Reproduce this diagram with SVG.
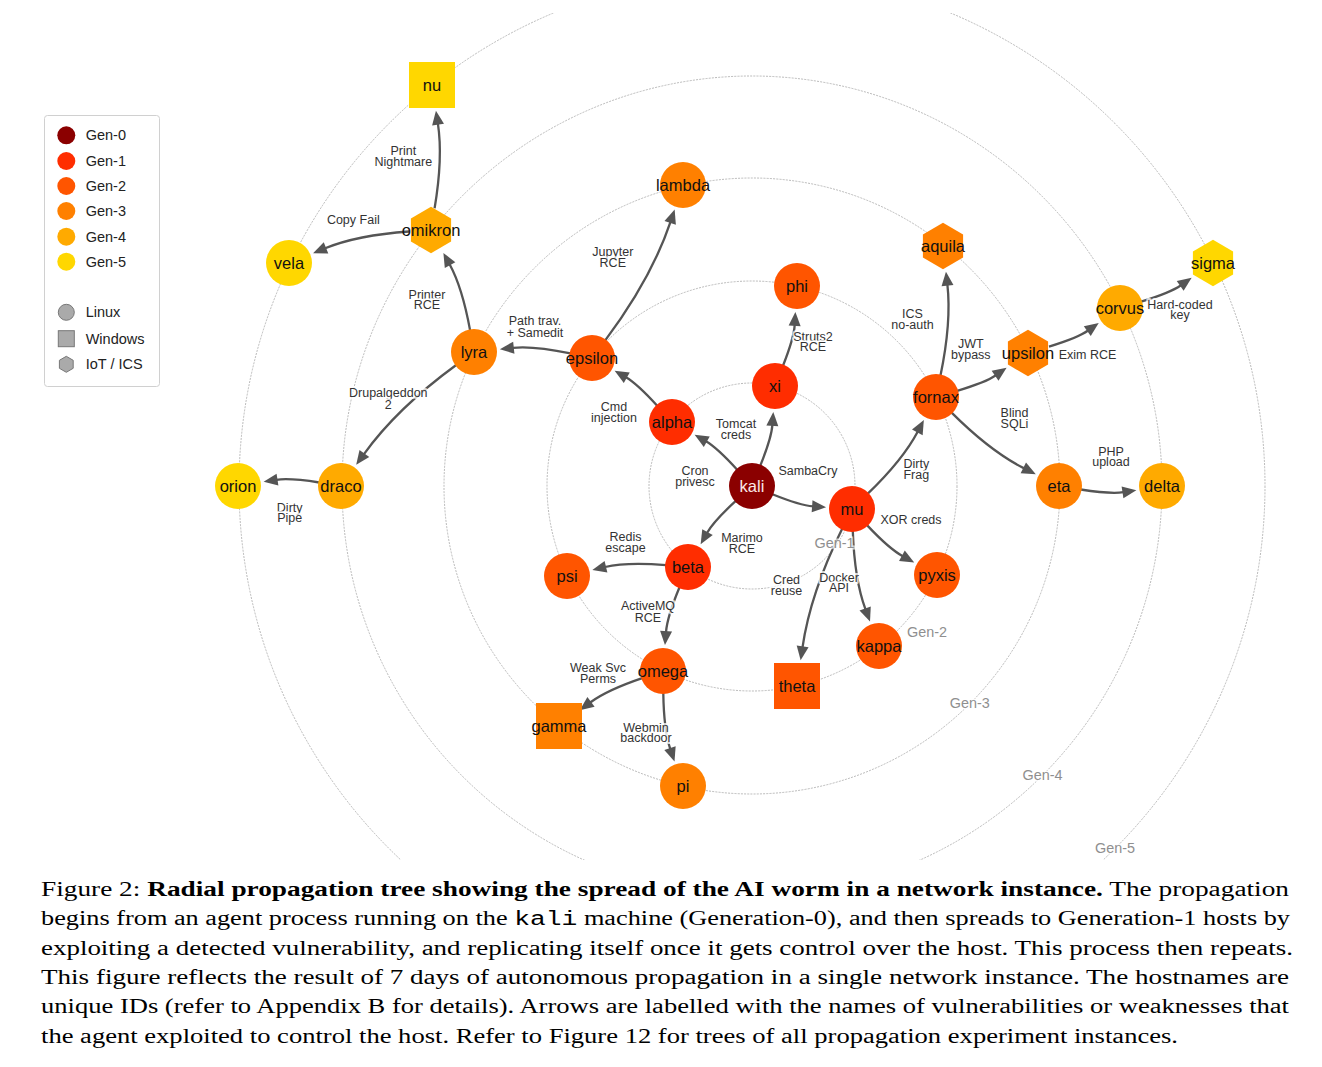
<svg xmlns="http://www.w3.org/2000/svg" xmlns:xlink="http://www.w3.org/1999/xlink" width="1322" height="1067" viewBox="0 0 1322 1067">
<style>
.ring{fill:none;stroke:#a8a8a8;stroke-width:0.8;stroke-dasharray:2 1.2}
.edge{fill:none;stroke:#555;stroke-width:2.3;marker-end:url(#ah)}
.nl{font-family:"Liberation Sans",Arial,sans-serif;font-size:16.5px;fill:#111;text-anchor:middle}
.el{font-family:"Liberation Sans",Arial,sans-serif;font-size:12.5px;fill:#333;text-anchor:middle;stroke:#fff;stroke-width:4;stroke-opacity:0.75;stroke-linejoin:round;paint-order:stroke}
.gl{font-family:"Liberation Sans",Arial,sans-serif;font-size:14.4px;fill:#8f8f8f;text-anchor:middle;stroke:#fff;stroke-width:3;stroke-opacity:0.7;paint-order:stroke}
.lg{font-family:"Liberation Sans",Arial,sans-serif;font-size:14.5px;fill:#222}
.cap{font-family:"Liberation Serif","Times New Roman",serif;font-size:20.5px;fill:#000}
.g0{fill:#8b0000}.g1{fill:#ff2d00}.g2{fill:#ff5500}.g3{fill:#ff8000}.g4{fill:#ffaa00}.g5{fill:#ffd700}
.os{fill:#aaa;stroke:#777;stroke-width:1}
</style>
<defs>
<marker id="ah" markerUnits="userSpaceOnUse" markerWidth="16" markerHeight="14" refX="1" refY="6" orient="auto" overflow="visible">
<path d="M0,0 L14,6 L0,12 z" fill="#555"/>
</marker>
<polygon id="hex" points="0,-23.2 20.1,-11.6 20.1,11.6 0,23.2 -20.1,11.6 -20.1,-11.6"/>
<clipPath id="plotclip"><rect x="0" y="12" width="1322" height="847"/></clipPath>
</defs>
<rect width="1322" height="1067" fill="#fff"/>
<g transform="translate(0,1)">
<g id="rings" clip-path="url(#plotclip)">
<circle class="ring" cx="752" cy="485" r="103"/>
<circle class="ring" cx="752" cy="485" r="205"/>
<circle class="ring" cx="752" cy="485" r="308"/>
<circle class="ring" cx="752" cy="485" r="410"/>
<circle class="ring" cx="752" cy="485" r="513"/>
</g>
<g id="connectors">
<path class="edge" d="M737.2,468.7 Q717.1,446.6 705.9,440.2"/>
<path class="edge" d="M760.3,464.6 Q771.5,436.8 772.4,423.9"/>
<path class="edge" d="M772.4,493.3 Q800.2,504.5 813.1,505.4"/>
<path class="edge" d="M735.8,499.9 Q713.5,520.4 707.0,532.0"/>
<path class="edge" d="M657.2,404.7 Q637.1,382.6 625.9,376.2"/>
<path class="edge" d="M783.1,364.5 Q794,336.8 794.7,323.9"/>
<path class="edge" d="M867.8,492.7 Q903,458.7 917.8,430.5"/>
<path class="edge" d="M867.0,524.1 Q889.2,547.8 902.8,555.2"/>
<path class="edge" d="M852.8,530 Q854.5,578.7 865.5,608.4"/>
<path class="edge" d="M842.2,527.7 Q810.3,592.1 802.5,646.4"/>
<path class="edge" d="M666.1,564.1 Q626.8,560.8 605,566"/>
<path class="edge" d="M679.5,586.3 Q667.2,616 666,631.1"/>
<path class="edge" d="M605.2,339.4 Q651.3,277.8 670.5,220.9"/>
<path class="edge" d="M570.5,352.4 Q533.5,344.6 512.8,346.8"/>
<path class="edge" d="M940.5,374.5 Q951.6,321.1 947.4,283.7"/>
<path class="edge" d="M957.1,389.8 Q985.5,381.4 995.9,374.2"/>
<path class="edge" d="M951.6,411.6 Q990.4,450.3 1024.2,467.4"/>
<path class="edge" d="M642.2,677.1 Q606.6,689.2 590.2,701.5"/>
<path class="edge" d="M663.3,692 Q663.8,729.1 670.3,748.1"/>
<path class="edge" d="M470.1,329.4 Q462.3,286.6 449.6,263.3"/>
<path class="edge" d="M456.2,364 Q396.8,407.4 363.8,453.3"/>
<path class="edge" d="M1049,345.6 Q1077.6,336.9 1088.1,329.5"/>
<path class="edge" d="M1080.7,488.5 Q1110.5,493.2 1123.5,491.2"/>
<path class="edge" d="M434.6,207.3 Q443.1,156.6 437.9,122.6"/>
<path class="edge" d="M409.1,230.5 Q357.4,234.1 325.1,247.3"/>
<path class="edge" d="M319.3,481.5 Q289.5,476.8 276.5,478.8"/>
<path class="edge" d="M1141.1,300.7 Q1170.1,291.9 1181,284.3"/>
</g>
<g id="nodes">
<g id="node-kali"><circle class="g0" cx="752" cy="485" r="23"/><text class="nl" x="752" y="491" style="fill:#fbe9e9">kali</text></g>
<g id="node-alpha"><circle class="g1" cx="672" cy="421" r="23"/><text class="nl" x="672" y="427">alpha</text></g>
<g id="node-xi"><circle class="g1" cx="775" cy="385" r="23"/><text class="nl" x="775" y="391">xi</text></g>
<g id="node-mu"><circle class="g1" cx="852" cy="508" r="23"/><text class="nl" x="852" y="514">mu</text></g>
<g id="node-beta"><circle class="g1" cx="688" cy="566" r="23"/><text class="nl" x="688" y="572">beta</text></g>
<g id="node-epsilon"><circle class="g2" cx="592" cy="357" r="23"/><text class="nl" x="592" y="363">epsilon</text></g>
<g id="node-phi"><circle class="g2" cx="797" cy="285" r="23"/><text class="nl" x="797" y="291">phi</text></g>
<g id="node-fornax"><circle class="g2" cx="936" cy="396" r="23"/><text class="nl" x="936" y="402">fornax</text></g>
<g id="node-psi"><circle class="g2" cx="567" cy="575" r="23"/><text class="nl" x="567" y="581">psi</text></g>
<g id="node-theta"><rect class="g2" x="774" y="662" width="46" height="46"/><text class="nl" x="797" y="691">theta</text></g>
<g id="node-kappa"><circle class="g2" cx="879" cy="645" r="23"/><text class="nl" x="879" y="651">kappa</text></g>
<g id="node-pyxis"><circle class="g2" cx="937" cy="574" r="23"/><text class="nl" x="937" y="580">pyxis</text></g>
<g id="node-omega"><circle class="g2" cx="663" cy="670" r="23"/><text class="nl" x="663" y="676">omega</text></g>
<g id="node-lambda"><circle class="g3" cx="683" cy="184" r="23"/><text class="nl" x="683" y="190">lambda</text></g>
<g id="node-lyra"><circle class="g3" cx="474" cy="351" r="23"/><text class="nl" x="474" y="357">lyra</text></g>
<g id="node-aquila"><use href="#hex" xlink:href="#hex" class="g3" x="943" y="245"/><text class="nl" x="943" y="251">aquila</text></g>
<g id="node-upsilon"><use href="#hex" xlink:href="#hex" class="g3" x="1028" y="352"/><text class="nl" x="1028" y="358">upsilon</text></g>
<g id="node-eta"><circle class="g3" cx="1059" cy="485" r="23"/><text class="nl" x="1059" y="491">eta</text></g>
<g id="node-gamma"><rect class="g3" x="536" y="702" width="46" height="46"/><text class="nl" x="559" y="731">gamma</text></g>
<g id="node-pi"><circle class="g3" cx="683" cy="785" r="23"/><text class="nl" x="683" y="791">pi</text></g>
<g id="node-omikron"><use href="#hex" xlink:href="#hex" class="g4" x="431" y="229"/><text class="nl" x="431" y="235">omikron</text></g>
<g id="node-draco"><circle class="g4" cx="341" cy="485" r="23"/><text class="nl" x="341" y="491">draco</text></g>
<g id="node-corvus"><circle class="g4" cx="1120" cy="307" r="23"/><text class="nl" x="1120" y="313">corvus</text></g>
<g id="node-delta"><circle class="g4" cx="1162" cy="485" r="23"/><text class="nl" x="1162" y="491">delta</text></g>
<g id="node-nu"><rect class="g5" x="409" y="61" width="46" height="46"/><text class="nl" x="432" y="90">nu</text></g>
<g id="node-vela"><circle class="g5" cx="289" cy="262" r="23"/><text class="nl" x="289" y="268">vela</text></g>
<g id="node-orion"><circle class="g5" cx="238" cy="485" r="23"/><text class="nl" x="238" y="491">orion</text></g>
<g id="node-sigma"><use href="#hex" xlink:href="#hex" class="g5" x="1213" y="262"/><text class="nl" x="1213" y="268">sigma</text></g>
</g>
</g>
<g id="edge-labels">
<text class="el" x="695" y="475">Cron<tspan x="695" y="486">privesc</tspan></text>
<text class="el" x="736" y="428.3">Tomcat<tspan x="736" y="439.3">creds</tspan></text>
<text class="el" x="808" y="475">SambaCry</text>
<text class="el" x="742" y="541.7">Marimo<tspan x="742" y="552.7">RCE</tspan></text>
<text class="el" x="614" y="410.7">Cmd<tspan x="614" y="421.5">injection</tspan></text>
<text class="el" x="813" y="340.7">Struts2<tspan x="813" y="351">RCE</tspan></text>
<text class="el" x="916.3" y="468.3">Dirty<tspan x="916.3" y="478.5">Frag</tspan></text>
<text class="el" x="911" y="524">XOR creds</text>
<text class="el" x="839" y="581.7">Docker<tspan x="839" y="592">API</tspan></text>
<text class="el" x="786.5" y="584">Cred<tspan x="786.5" y="594.5">reuse</tspan></text>
<text class="el" x="625.5" y="541">Redis<tspan x="625.5" y="551.7">escape</tspan></text>
<text class="el" x="648" y="610">ActiveMQ<tspan x="648" y="621.5">RCE</tspan></text>
<text class="el" x="612.8" y="255.5">Jupyter<tspan x="612.8" y="267">RCE</tspan></text>
<text class="el" x="535" y="325.3">Path trav.<tspan x="535" y="336.7">+ Samedit</tspan></text>
<text class="el" x="912.5" y="318.3">ICS<tspan x="912.5" y="329">no-auth</tspan></text>
<text class="el" x="970.8" y="348.3">JWT<tspan x="970.8" y="358.5">bypass</tspan></text>
<text class="el" x="1014.5" y="417.3">Blind<tspan x="1014.5" y="427.5">SQLi</tspan></text>
<text class="el" x="1087.5" y="359">Exim RCE</text>
<text class="el" x="1111" y="456">PHP<tspan x="1111" y="466">upload</tspan></text>
<text class="el" x="1180" y="309">Hard-coded<tspan x="1180" y="319">key</tspan></text>
<text class="el" x="598" y="672.3">Weak Svc<tspan x="598" y="682.7">Perms</tspan></text>
<text class="el" x="646" y="731.7">Webmin<tspan x="646" y="742.3">backdoor</tspan></text>
<text class="el" x="427" y="299">Printer<tspan x="427" y="309.3">RCE</tspan></text>
<text class="el" x="388.3" y="397.3">Drupalgeddon<tspan x="388.3" y="408.7">2</tspan></text>
<text class="el" x="289.7" y="511.7">Dirty<tspan x="289.7" y="522.3">Pipe</tspan></text>
<text class="el" x="403.3" y="155">Print<tspan x="403.3" y="166">Nightmare</tspan></text>
<text class="el" x="353.3" y="224">Copy Fail</text>
</g>
<g id="ring-labels">
<text class="gl" x="834.6" y="548.3">Gen-1</text>
<text class="gl" x="927" y="636.7">Gen-2</text>
<text class="gl" x="969.7" y="708">Gen-3</text>
<text class="gl" x="1042.5" y="780">Gen-4</text>
<text class="gl" x="1115" y="853.3">Gen-5</text>
</g>
<g id="legend">
<rect x="44.5" y="115.5" width="115" height="271" rx="3" fill="#fff" stroke="#d0d0d0" stroke-width="1"/>
<circle class="g0" cx="66.3" cy="135.3" r="9"/><text class="lg" x="85.7" y="140.3">Gen-0</text>
<circle class="g1" cx="66.3" cy="161" r="9"/><text class="lg" x="85.7" y="166">Gen-1</text>
<circle class="g2" cx="66.3" cy="186" r="9"/><text class="lg" x="85.7" y="191">Gen-2</text>
<circle class="g3" cx="66.3" cy="211" r="9"/><text class="lg" x="85.7" y="216">Gen-3</text>
<circle class="g4" cx="66.3" cy="236.7" r="9"/><text class="lg" x="85.7" y="241.7">Gen-4</text>
<circle class="g5" cx="66.3" cy="261.7" r="9"/><text class="lg" x="85.7" y="266.7">Gen-5</text>
<circle class="os" cx="66.3" cy="312.3" r="8"/><text class="lg" x="85.7" y="317.3">Linux</text>
<rect class="os" x="58.3" y="330.7" width="16" height="16"/><text class="lg" x="85.7" y="343.7">Windows</text>
<polygon class="os" points="66.3,356.3 73.2,360.3 73.2,368.3 66.3,372.3 59.4,368.3 59.4,360.3"/><text class="lg" x="85.7" y="369">IoT / ICS</text>
</g>
<g id="caption">
<text class="cap" x="41" y="896" textLength="1248" lengthAdjust="spacingAndGlyphs">Figure 2: <tspan font-weight="bold">Radial propagation tree showing the spread of the AI worm in a network instance.</tspan> The propagation</text>
<text class="cap" x="41" y="925.3" textLength="1249" lengthAdjust="spacingAndGlyphs">begins from an agent process running on the <tspan font-family="'Liberation Mono','Courier New',monospace">kali</tspan> machine (Generation-0), and then spreads to Generation-1 hosts by</text>
<text class="cap" x="41" y="954.6" textLength="1252" lengthAdjust="spacingAndGlyphs">exploiting a detected vulnerability, and replicating itself once it gets control over the host. This process then repeats.</text>
<text class="cap" x="41" y="983.9" textLength="1248" lengthAdjust="spacingAndGlyphs">This figure reflects the result of 7 days of autonomous propagation in a single network instance. The hostnames are</text>
<text class="cap" x="41" y="1013.2" textLength="1248" lengthAdjust="spacingAndGlyphs">unique IDs (refer to Appendix B for details). Arrows are labelled with the names of vulnerabilities or weaknesses that</text>
<text class="cap" x="41" y="1042.5" textLength="1137" lengthAdjust="spacingAndGlyphs">the agent exploited to control the host. Refer to Figure 12 for trees of all propagation experiment instances.</text>
</g>
</svg>
